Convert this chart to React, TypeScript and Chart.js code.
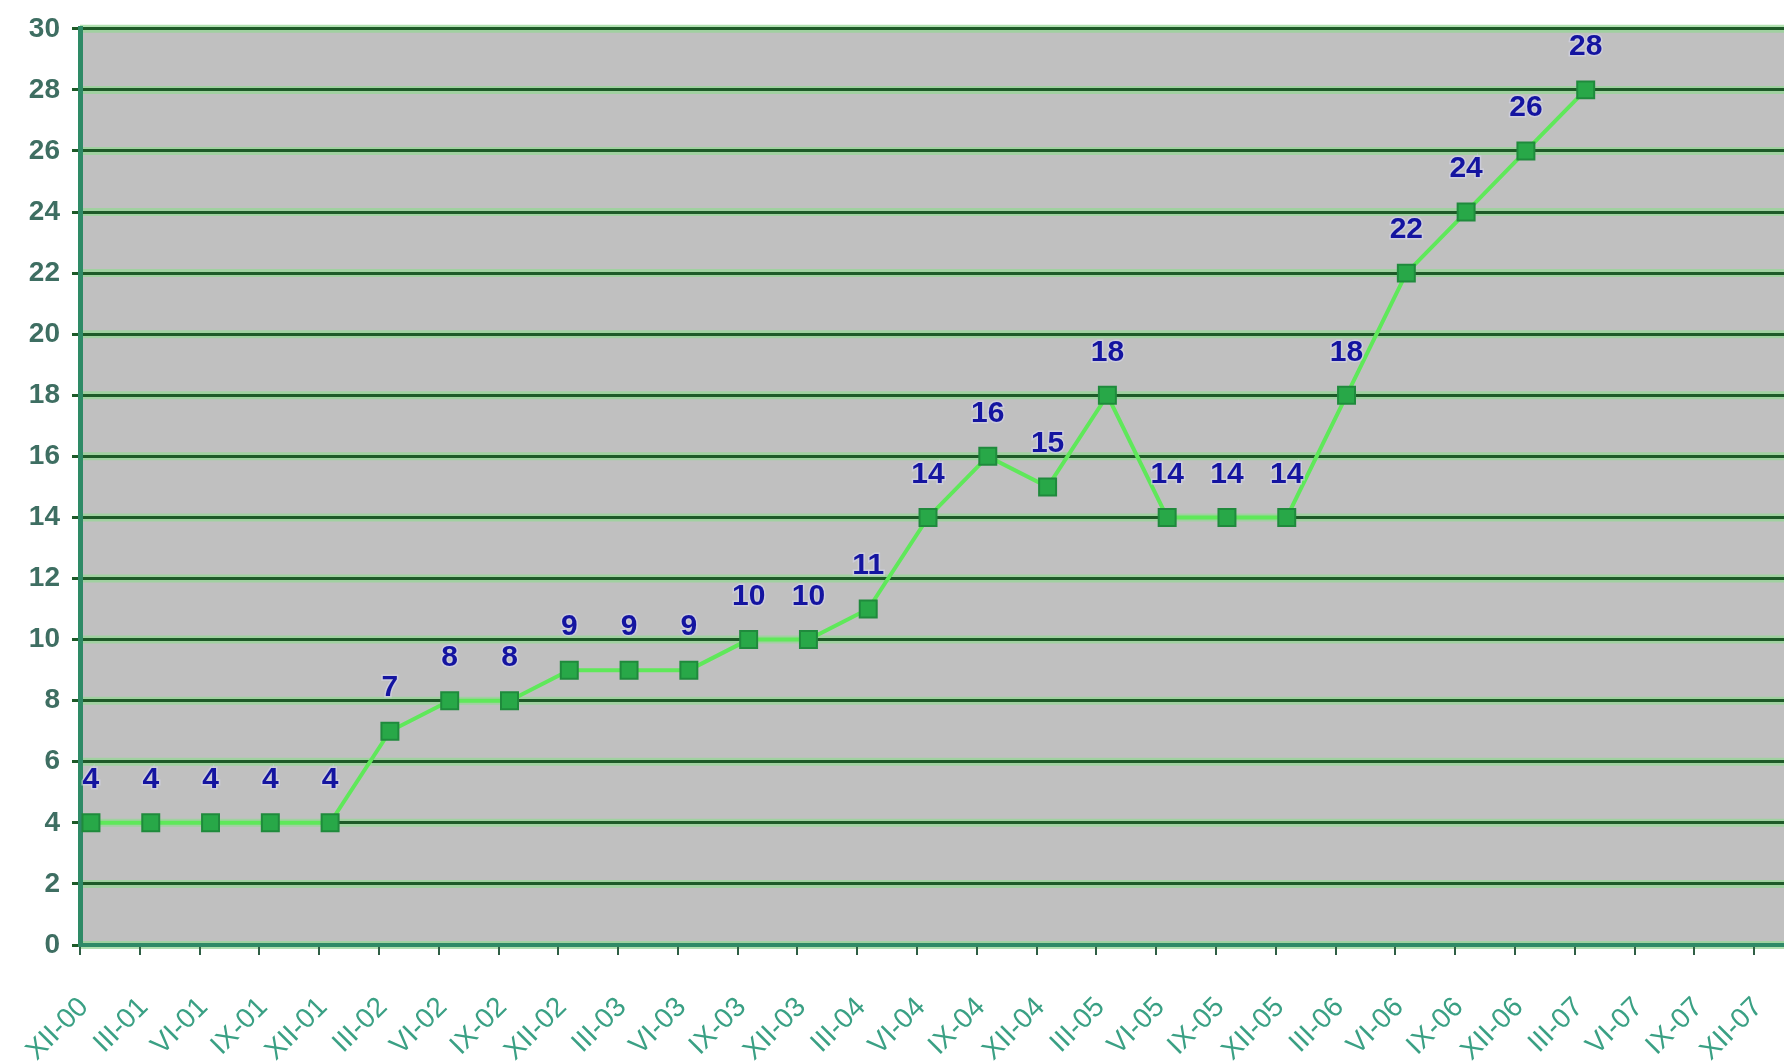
import React, { useEffect, useRef } from "react";
import { Chart, registerables } from "chart.js";

Chart.register(...registerables);

// Quarter tick labels (Roman month - year)
const tickLabels = [
  "XII-00", "III-01", "VI-01", "IX-01", "XII-01", "III-02", "VI-02", "IX-02",
  "XII-02", "III-03", "VI-03", "IX-03", "XII-03", "III-04", "VI-04", "IX-04",
  "XII-04", "III-05", "VI-05", "IX-05", "XII-05", "III-06", "VI-06", "IX-06",
  "XII-06", "III-07", "VI-07", "IX-07", "XII-07",
];
// Position of each tick label, in months since XII-00
const tickMonths = [
  0, 3, 6, 9, 12, 15, 18, 21, 24, 27, 30, 33, 36, 39, 42, 45, 48, 51, 54, 57,
  60, 63, 66, 69, 72, 75, 78, 81, 84,
];
// Date of each observation, in months since XII-00 (mid-month)
const pointMonths = [
  0.55, 3.55, 6.55, 9.55, 12.55, 15.55, 18.55, 21.55, 24.55, 27.55, 30.55,
  33.55, 36.55, 39.55, 42.55, 45.55, 48.55, 51.55, 54.55, 57.55, 60.55, 63.55,
  66.55, 69.55, 72.55, 75.55,
];
const values = [
  4, 4, 4, 4, 4, 7, 8, 8, 9, 9, 9, 10, 10, 11, 14, 16, 15, 18, 14, 14, 14, 18,
  22, 24, 26, 28,
];
const xMin = 0;
const xMax = 85.5;
const yMin = 0;
const yMax = 30;
const yStep = 2;

const FONT = "'Liberation Sans', Arial, sans-serif";

export default function App() {
  const ref = useRef<HTMLCanvasElement | null>(null);

  useEffect(() => {
    if (!ref.current) return;

    const backgroundPlugin = {
      id: "plotBackground",
      beforeDraw(chart: any) {
        const { ctx, chartArea, width, height } = chart;
        ctx.save();
        ctx.fillStyle = "#ffffff";
        ctx.fillRect(0, 0, width, height);
        ctx.fillStyle = "#c0c0c0";
        ctx.fillRect(
          chartArea.left,
          chartArea.top,
          chartArea.right - chartArea.left,
          chartArea.bottom - chartArea.top
        );
        // soft green halo beneath the gridlines
        const ys = chart.scales.y;
        ctx.strokeStyle = "rgba(150, 215, 150, 0.75)";
        ctx.lineWidth = 8;
        ys.ticks.forEach((t: any) => {
          const py = ys.getPixelForValue(t.value);
          ctx.beginPath();
          ctx.moveTo(chartArea.left, py);
          ctx.lineTo(chartArea.right, py);
          ctx.stroke();
        });
        ctx.restore();
      },
    };

    const labelPlugin = {
      id: "valueLabels",
      afterDatasetsDraw(chart: any) {
        const { ctx } = chart;
        const meta = chart.getDatasetMeta(0);
        ctx.save();
        ctx.font = `bold 30px ${FONT}`;
        ctx.textAlign = "center";
        ctx.textBaseline = "middle";
        meta.data.forEach((pt: any, i: number) => {
          const txt = String(values[i]);
          ctx.lineWidth = 3;
          ctx.strokeStyle = "rgba(215, 215, 240, 0.55)";
          ctx.strokeText(txt, pt.x, pt.y - 43);
          ctx.fillStyle = "#1414a0";
          ctx.fillText(txt, pt.x, pt.y - 43);
        });
        ctx.restore();
      },
    };

    const chart = new Chart(ref.current, {
      type: "line",
      data: {
        datasets: [
          {
            data: pointMonths.map((m, i) => ({ x: m, y: values[i] })),
            borderColor: "#5fe85a",
            borderWidth: 4,
            pointStyle: "rect",
            pointRadius: 12,
            pointBackgroundColor: "#28a848",
            pointBorderColor: "#1f8a3c",
            pointBorderWidth: 2,
            tension: 0,
          },
        ],
      },
      options: {
        animation: false,
        responsive: false,
        devicePixelRatio: 1,
        layout: { autoPadding: false, padding: { top: 25, right: 0, left: 0, bottom: 0 } },
        plugins: {
          legend: { display: false },
          tooltip: { enabled: false },
          title: { display: false },
        },
        scales: {
          x: {
            type: "linear",
            min: xMin,
            max: xMax,
            afterBuildTicks(scale: any) {
              scale.ticks = tickMonths.map((v) => ({ value: v }));
            },
            afterFit(scale: any) {
              scale.height = 116;
              scale.paddingLeft = 0;
              scale.paddingRight = 0;
            },
            ticks: {
              autoSkip: false,
              minRotation: 45,
              maxRotation: 45,
              padding: 36,
              labelOffset: 4,
              color: "#3aa084",
              font: { family: FONT, size: 28 },
              callback: (value: any) => tickLabels[tickMonths.indexOf(Number(value))],
            },
            grid: {
              display: true,
              drawOnChartArea: false,
              drawTicks: true,
              tickLength: 10,
              color: "#2f5f45",
              lineWidth: 2,
            },
            border: { display: true, color: "#2e8a66", width: 4 },
          },
          y: {
            type: "linear",
            min: yMin,
            max: yMax,
            afterFit(scale: any) {
              scale.width = 80;
            },
            ticks: {
              stepSize: yStep,
              padding: 12,
              color: "#3e6e62",
              font: { family: FONT, size: 28, weight: "bold" },
            },
            grid: {
              color: "#1e5a28",
              lineWidth: 3,
              tickLength: 8,
              drawTicks: true,
            },
            border: { display: true, color: "#2e8a66", width: 5 },
          },
        },
      },
      plugins: [backgroundPlugin, labelPlugin],
    });

    return () => chart.destroy();
  }, []);

  return (
    <div style={{ position: "absolute", left: 0, top: 0, width: 1784, height: 1061 }}>
      <canvas ref={ref} width={1784} height={1061} style={{ width: 1784, height: 1061 }} />
    </div>
  );
}
